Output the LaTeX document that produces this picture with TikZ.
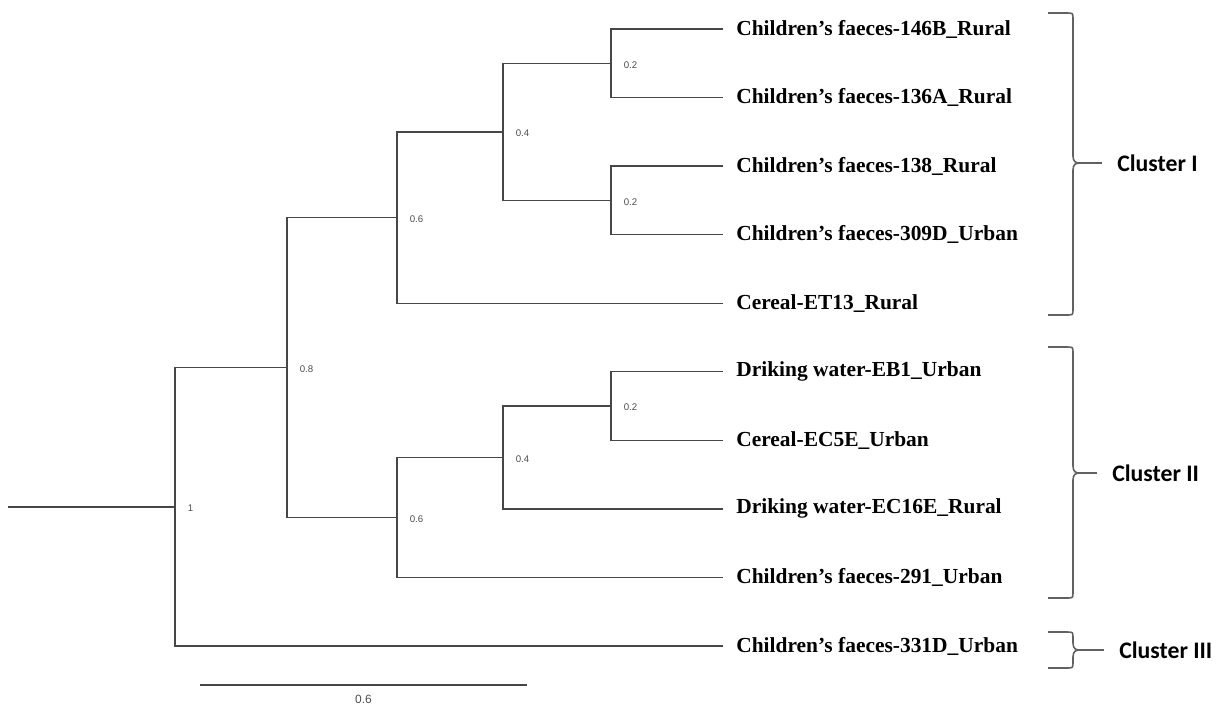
\documentclass[tikz,border=0pt]{standalone}
\usepackage{fontspec}
\setmainfont{Liberation Serif}
\newfontfamily\clusterfont{Carlito}
\newfontfamily\supportfont{Liberation Sans}
\usetikzlibrary{positioning}

% curly bracket on the right of a cluster: top, middle, bottom, name of its tip
\newcommand\clusterbracket[4]{%
  \draw[bracket] (1048,#1) -- (1067,#1) .. controls (1073,#1) .. (1073,#1+6)
    -- (1073,#2-7) .. controls (1073,#2-1) and (1076,#2) .. (1080,#2)
    coordinate (#4)
    .. controls (1076,#2) and (1073,#2+1) .. (1073,#2+7)
    -- (1073,#3-6) .. controls (1073,#3) .. (1067,#3) -- (1048,#3);}

\begin{document}
\begin{tikzpicture}[
    x=0.02cm, y=-0.02cm,
    branch/.style={draw=black!72, line width=0.8pt},
    bracket/.style={draw=black!62, line width=0.9pt},
    leaf/.style={anchor=west, inner xsep=0.26cm, inner ysep=0pt,
                 font=\fontsize{12.2}{14}\selectfont\bfseries},
    support/.style={anchor=west, inner sep=0pt, xshift=0.25cm, yshift=-0.03cm,
                    font=\supportfont\fontsize{5.5}{6}\selectfont, text=black!70},
    cluster/.style={anchor=west, inner xsep=0.3cm, inner ysep=0pt,
                    font=\clusterfont\fontsize{13.5}{16}\selectfont\bfseries}
  ]
  \useasboundingbox (0,0) rectangle (1225,704);

  % leaves
  \foreach \name/\txt [count=\i from 0] in {
      l146b/{Children’s faeces-146B\_Rural},
      l136a/{Children’s faeces-136A\_Rural},
      l138/{Children’s faeces-138\_Rural},
      l309d/{Children’s faeces-309D\_Urban},
      let13/{Cereal-ET13\_Rural},
      leb1/{Driking water-EB1\_Urban},
      lec5e/{Cereal-EC5E\_Urban},
      lec16e/{Driking water-EC16E\_Rural},
      l291/{Children’s faeces-291\_Urban},
      l331d/{Children’s faeces-331D\_Urban}}
    \node[leaf] (\name) at (723,{29+68.55*\i}) {\txt};

  % inner nodes of the tree
  \coordinate (ca) at (611,63.3);
  \coordinate (cb) at (611,200.4);
  \coordinate (cc) at (503,131.8);
  \coordinate (cd) at (397,217.5);
  \coordinate (ce) at (611,406.0);
  \coordinate (cf) at (503,457.5);
  \coordinate (cg) at (397,517.4);
  \coordinate (ch) at (287,367.5);
  \coordinate (root) at (175,506.8);
  \coordinate (stem) at (8,506.8);

  \draw[branch] (stem) -- (root);
  \foreach \p/\c in {root/ch, root/l331d.west,
                     ch/cd, ch/cg,
                     cd/cc, cd/let13.west,
                     cc/ca, cc/cb,
                     ca/l146b.west, ca/l136a.west,
                     cb/l138.west, cb/l309d.west,
                     cg/cf, cg/l291.west,
                     cf/ce, cf/lec16e.west,
                     ce/leb1.west, ce/lec5e.west}
    \draw[branch] (\p) |- (\c);

  % node heights
  \foreach \c/\v in {root/1, ch/0.8, cd/0.6, cg/0.6, cc/0.4, cf/0.4,
                     ca/0.2, cb/0.2, ce/0.2}
    \node[support] (h\c) at (\c) {\v};

  % scale bar
  \coordinate (scaleL) at (200,685);
  \coordinate (scaleR) at (527,685);
  \draw[branch] (scaleL) -- node[below=0.19cm, inner sep=0pt,
      font=\supportfont\fontsize{6.8}{8}\selectfont, text=black!70] (scalelbl) {0.6}
    (scaleR);

  % clusters
  \clusterbracket{13}{163}{315}{tip1}
  \clusterbracket{347}{473}{598}{tip2}
  \clusterbracket{632}{650}{668}{tip3}
  \node[cluster] (cl1) at (1102,163) {Cluster I};
  \node[cluster] (cl2) at (1097,473) {Cluster II};
  \node[cluster] (cl3) at (1104,650) {Cluster III};
  \draw[bracket] (tip1) -- (cl1.west);
  \draw[bracket] (tip2) -- (cl2.west);
  \draw[bracket] (tip3) -- (cl3.west);
\end{tikzpicture}
\end{document}
